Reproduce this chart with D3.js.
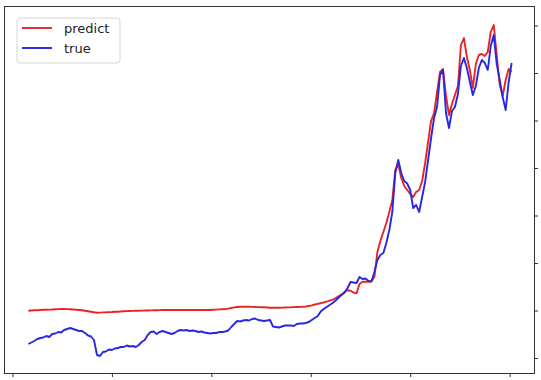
<!DOCTYPE html>
<html>
<head>
<meta charset="utf-8">
<script src="https://cdn.jsdelivr.net/npm/d3@7"></script>
<style>
  body { margin: 0; background: #fff; }
  svg { display: block; font-family: "DejaVu Sans", sans-serif; }
</style>
</head>
<body>
<div id="chart"></div>
<script>
// day index of first sample and sample spacing
var startDay = 32;
var dayStep = 6;

// actual series
var trueValues = [
  14, 15.5, 17, 19, 20, 20.5, 22, 21, 24, 24.5, 26, 25.5, 28, 29, 30, 29, 28, 27, 27, 25,
  22.5, 21.5, 18, 3, 2, 6, 6.5, 8.5, 8, 9.5, 10, 11, 11, 12.5, 11.5, 12, 11, 13, 16, 18,
  23, 26, 26.5, 24, 26, 27, 26, 25, 24, 25, 27, 28, 27.5, 28, 27, 27.5, 27, 26, 26.5, 25.5,
  25, 24.5, 25, 25, 26, 26, 26.5, 27.5, 31, 34, 37, 36.5, 37.5, 38, 37.5, 39, 39.5, 38, 37.5, 37,
  37.5, 38, 31.5, 31, 30.5, 31.5, 32.5, 32.5, 32.5, 32, 34, 34.5, 34.5, 35, 36, 38, 40, 42, 46.5, 49,
  51, 53, 55, 57.5, 60.5, 63, 65.5, 70, 76, 75.5, 75, 81, 79, 79.5, 77, 76.5, 86, 98, 103, 105,
  115, 128, 146, 185, 198, 185, 177, 174.5, 168, 150, 153, 146, 161, 176, 198, 220, 240, 251, 283, 288,
  245, 230, 247, 251, 264, 292, 300, 290, 276, 263, 272, 290, 298, 295, 288, 312, 323, 294, 278, 261,
  248, 276, 295
];

// model prediction
var predictValues = [
  47.3, 47.5, 47.7, 47.8, 48, 48.2, 48.3, 48.4, 48.5, 48.7, 48.9, 49, 49, 48.9, 48.7, 48.5, 48.3, 48, 47.7, 47.2,
  46.7, 46.2, 45.7, 45.3, 45.4, 45.6, 45.7, 45.9, 46, 46.2, 46.3, 46.5, 46.7, 46.9, 47, 47.1, 47.2, 47.3, 47.4, 47.5,
  47.5, 47.6, 47.7, 47.8, 47.9, 48, 48, 48, 48, 48, 48, 48, 48, 48, 48, 48, 48, 48, 48, 48,
  48, 48, 48.2, 48.4, 48.6, 48.8, 49, 49.4, 50, 50.6, 51, 51.3, 51.3, 51.2, 51.2, 51.1, 51, 50.9, 50.8, 50.7,
  50.5, 50.3, 50.2, 50.2, 50.3, 50.4, 50.5, 50.6, 50.7, 50.9, 51, 51.1, 51.2, 51.5, 52, 52.7, 53.5, 54.2, 54.8, 55.5,
  56.4, 57.4, 58.4, 60, 61.8, 63.5, 66, 67.8, 67.2, 65.4, 64.7, 74, 76.3, 76.3, 76.3, 76.8, 81, 106, 117, 126,
  135, 146, 158, 188, 194, 180, 172, 168, 164, 161, 166, 168, 177, 195, 216, 237, 245, 266, 286, 289,
  262, 243, 254, 263, 272, 313, 320, 301, 288, 270, 294, 303, 304, 302, 306, 326, 333, 303, 273, 262,
  278, 289, 286
];

var xTicks = [0, 200, 400, 600, 800, 1000];
var yTicks = [0, 47.5, 95, 142.5, 190, 237.5, 285, 332.5];

var seriesNames = ["predict", "true"];
var seriesColors = ["#e82424", "#2828e0"];

var width = 541, height = 380;
var plotLeft = 4.5, plotRight = 534.5, plotTop = 6.5, plotBottom = 373.5;

var svg = d3.select("#chart").append("svg")
  .attr("width", width)
  .attr("height", height);

var x = d3.scaleLinear().domain([-16, 1050]).range([plotLeft, plotRight]);
var y = d3.scaleLinear().domain([-15.5, 351.5]).range([plotBottom, plotTop]);

var line = d3.line()
  .x(function (d, i) { return x(startDay + i * dayStep); })
  .y(function (d) { return y(d); });

svg.append("path")
  .datum(predictValues)
  .attr("d", line)
  .attr("fill", "none")
  .attr("stroke", seriesColors[0])
  .attr("stroke-width", 1.9)
  .attr("stroke-linejoin", "round");

svg.append("path")
  .datum(trueValues)
  .attr("d", line)
  .attr("fill", "none")
  .attr("stroke", seriesColors[1])
  .attr("stroke-width", 1.9)
  .attr("stroke-linejoin", "round");

// frame
svg.append("rect")
  .attr("x", plotLeft).attr("y", plotTop)
  .attr("width", plotRight - plotLeft).attr("height", plotBottom - plotTop)
  .attr("fill", "none")
  .attr("stroke", "#333")
  .attr("stroke-width", 1);

// axes, ticks only
var xAxis = svg.append("g")
  .attr("transform", "translate(0," + plotBottom + ")")
  .call(d3.axisBottom(x).tickValues(xTicks).tickSize(3.5).tickFormat(""));
var yAxis = svg.append("g")
  .attr("transform", "translate(" + plotRight + ",0)")
  .call(d3.axisRight(y).tickValues(yTicks).tickSize(3.5).tickFormat(""));
[xAxis, yAxis].forEach(function (g) {
  g.select(".domain").remove();
  g.selectAll(".tick line").attr("stroke", "#333");
});

// legend
var legend = svg.append("g").attr("transform", "translate(17,18)");
legend.append("rect")
  .attr("width", 103).attr("height", 45)
  .attr("rx", 3)
  .attr("fill", "#fff")
  .attr("fill-opacity", 0.8)
  .attr("stroke", "#d6d6d6")
  .attr("stroke-width", 1);

seriesNames.forEach(function (name, i) {
  var row = legend.append("g").attr("transform", "translate(0," + (10 + i * 20) + ")");
  row.append("line")
    .attr("x1", 5).attr("x2", 35)
    .attr("stroke", seriesColors[i])
    .attr("stroke-width", 1.9);
  row.append("text")
    .attr("x", 47).attr("y", 5)
    .attr("font-size", 13)
    .attr("fill", "#222")
    .text(name);
});
</script>
</body>
</html>
